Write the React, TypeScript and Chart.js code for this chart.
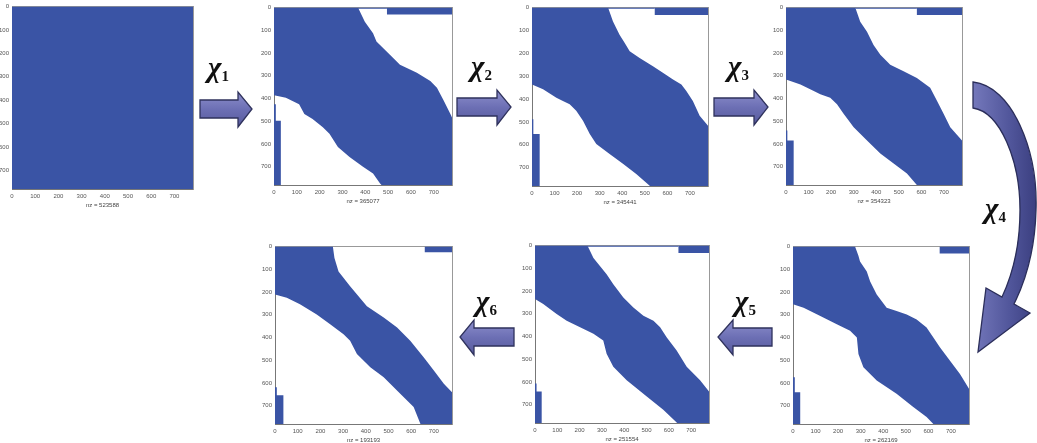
import React, { useEffect, useRef } from 'react';
import { Chart, registerables } from 'chart.js';

Chart.register(...registerables);

// ---------- data ----------
const AXIS_MAX = 780;
const tickValues = [0, 100, 200, 300, 400, 500, 600, 700];
const BLUE = '#3a54a5';

// panel 1: full matrix
const p1Upper = [[0, 0], [780, 0]];
const p1Lower = [[0, 780], [780, 780]];
const p1Blocks: number[][] = [];

// panel 2 (after chi1)
const p2Upper = [[368, 0], [398, 62], [434, 113], [449, 149], [508, 207], [552, 251], [596, 272], [626, 287], [685, 323], [714, 352], [744, 410], [773, 468], [780, 483]];
const p2Lower = [[0, 385], [52, 396], [110, 425], [133, 468], [169, 490], [214, 526], [243, 555], [280, 613], [331, 657], [390, 700], [434, 729], [464, 772], [471, 780]];
const p2Blocks = [[495, 780, 0, 30], [368, 495, 0, 5], [0, 30, 497, 780], [0, 8, 425, 780]];

// panel 3 (after chi2)
const p3Upper = [[337, 0], [359, 61], [388, 119], [411, 155], [433, 191], [477, 220], [536, 256], [580, 285], [625, 314], [662, 336], [684, 365], [713, 408], [743, 473], [780, 517]];
const p3Lower = [[0, 336], [49, 357], [108, 394], [137, 408], [167, 423], [196, 451], [226, 495], [256, 553], [285, 596], [344, 640], [403, 683], [462, 727], [523, 780]];
const p3Blocks = [[544, 780, 0, 32], [337, 544, 0, 5], [0, 34, 553, 780], [0, 6, 488, 780]];

// panel 4 (after chi3)
const p4Upper = [[307, 0], [329, 62], [359, 106], [388, 164], [418, 207], [462, 251], [521, 280], [580, 309], [639, 352], [669, 410], [699, 468], [728, 526], [780, 584]];
const p4Lower = [[0, 316], [64, 338], [123, 367], [152, 381], [196, 396], [226, 425], [256, 468], [300, 526], [359, 584], [418, 642], [477, 686], [536, 729], [580, 780]];
const p4Blocks = [[580, 780, 0, 33], [307, 580, 0, 5], [0, 34, 584, 780], [0, 6, 540, 780]];

// panel 5 (after chi4, bottom right)
const p5Upper = [[275, 0], [290, 40], [297, 65], [327, 109], [342, 153], [371, 211], [415, 269], [459, 283], [504, 298], [548, 320], [592, 356], [622, 400], [651, 443], [695, 501], [740, 560], [780, 625]];
const p5Lower = [[0, 254], [47, 269], [121, 305], [194, 341], [253, 370], [283, 400], [290, 472], [312, 531], [371, 589], [459, 647], [533, 705], [592, 749], [622, 780]];
const p5Blocks = [[650, 780, 0, 30], [0, 32, 640, 780], [0, 8, 574, 780]];

// panel 6 (after chi5, bottom middle)
const p6Upper = [[235, 0], [262, 54], [291, 90], [321, 126], [351, 170], [396, 228], [441, 272], [486, 308], [531, 330], [561, 359], [590, 403], [635, 461], [680, 533], [740, 592], [780, 642]];
const p6Lower = [[0, 235], [37, 257], [97, 301], [142, 330], [202, 359], [262, 388], [306, 417], [321, 475], [351, 533], [411, 592], [501, 664], [575, 722], [635, 778], [637, 780]];
const p6Blocks = [[643, 780, 0, 32], [235, 643, 0, 5], [0, 30, 642, 780], [0, 7, 606, 780]];

// panel 7 (after chi6, bottom left)
const p7Upper = [[255, 0], [262, 50], [280, 109], [331, 174], [405, 262], [479, 312], [538, 356], [596, 414], [655, 487], [700, 545], [744, 603], [780, 640]];
const p7Lower = [[0, 211], [52, 225], [110, 254], [184, 298], [243, 341], [302, 385], [331, 414], [361, 472], [420, 531], [479, 574], [552, 647], [611, 705], [641, 780]];
const p7Blocks = [[660, 780, 0, 25], [0, 37, 654, 780], [0, 8, 618, 780]];

const nzLabels = ['nz = 523588', 'nz = 365077', 'nz = 345441', 'nz = 354323', 'nz = 262169', 'nz = 251554', 'nz = 193193'];

// ---------- layout ----------
const Y_W = 20;
const X_H = 20;
const PAD = 5;

type Geom = { left: number; top: number; w: number; h: number };

function bandPolygon(upper: number[][], lower: number[][]) {
  const pts = [{ x: 0, y: 0 }];
  upper.forEach(([x, y]) => pts.push({ x, y }));
  pts.push({ x: AXIS_MAX, y: AXIS_MAX });
  [...lower].reverse().forEach(([x, y]) => pts.push({ x, y }));
  return pts;
}

function blockPolygon(b: number[]) {
  const [c0, c1, r0, r1] = b;
  return [{ x: c0, y: r0 }, { x: c1, y: r0 }, { x: c1, y: r1 }, { x: c0, y: r1 }];
}

function SpyPanel({ geom, upper, lower, blocks, nz }: { geom: Geom; upper: number[][]; lower: number[][]; blocks: number[][]; nz: string }) {
  const ref = useRef<HTMLCanvasElement | null>(null);
  const cw = Y_W + geom.w + PAD;
  const ch = PAD + geom.h + X_H;
  useEffect(() => {
    const ds = (data: any) => ({
      data,
      showLine: true,
      fill: 'shape',
      backgroundColor: BLUE,
      borderColor: BLUE,
      borderWidth: 0,
      pointRadius: 0,
      tension: 0,
    });
    const tickFont = { size: 6, family: 'Liberation Sans, Arial, sans-serif' };
    const chart = new Chart(ref.current as HTMLCanvasElement, {
      type: 'scatter',
      data: {
        datasets: [ds(bandPolygon(upper, lower)), ...blocks.map((b) => ds(blockPolygon(b)))] as any,
      },
      options: {
        animation: false,
        responsive: false,
        devicePixelRatio: 1,
        layout: { padding: { top: PAD, right: PAD, left: 0, bottom: 0 } },
        plugins: { legend: { display: false }, tooltip: { enabled: false } },
        scales: {
          x: {
            type: 'linear',
            position: 'bottom',
            min: 0,
            max: AXIS_MAX,
            grid: { display: false, drawTicks: false },
            border: { display: true, color: '#777', width: 1 },
            ticks: { font: tickFont, color: '#555', padding: 4, maxRotation: 0, autoSkip: false, includeBounds: false },
            afterBuildTicks: (s: any) => { s.ticks = tickValues.map((v) => ({ value: v })); },
            afterFit: (s: any) => { s.height = X_H; },
            title: { display: true, text: nz, font: tickFont, color: '#444', padding: 0 },
          },
          y: {
            type: 'linear',
            position: 'left',
            reverse: true,
            min: 0,
            max: AXIS_MAX,
            grid: { display: false, drawTicks: false },
            border: { display: true, color: '#777', width: 1 },
            ticks: { font: tickFont, color: '#555', padding: 3, autoSkip: false, includeBounds: false },
            afterBuildTicks: (s: any) => { s.ticks = tickValues.map((v) => ({ value: v })); },
            afterFit: (s: any) => { s.width = Y_W; },
          },
          x2: {
            type: 'linear',
            axis: 'x',
            position: 'top',
            min: 0,
            max: AXIS_MAX,
            grid: { display: false, drawTicks: false },
            border: { display: true, color: '#999', width: 1 },
            ticks: { display: false },
            afterFit: (s: any) => { s.height = 0; },
          },
          y2: {
            type: 'linear',
            axis: 'y',
            position: 'right',
            min: 0,
            max: AXIS_MAX,
            grid: { display: false, drawTicks: false },
            border: { display: true, color: '#999', width: 1 },
            ticks: { display: false },
            afterFit: (s: any) => { s.width = 0; },
          },
        },
      } as any,
    });
    return () => chart.destroy();
  }, []);
  return (
    <div style={{ position: 'absolute', left: geom.left - Y_W, top: geom.top - PAD, width: cw, height: ch }}>
      <canvas ref={ref} width={cw} height={ch} style={{ display: 'block', width: cw, height: ch }} />
    </div>
  );
}

const chiStyle: React.CSSProperties = {
  position: 'absolute',
  fontFamily: "'Liberation Serif', 'DejaVu Serif', serif",
  fontStyle: 'italic',
  fontWeight: 'bold',
  fontSize: 29,
  lineHeight: '29px',
  color: '#111',
  whiteSpace: 'nowrap',
};

function Chi({ left, top, sub }: { left: number; top: number; sub: string }) {
  return (
    <div style={{ ...chiStyle, left, top }}>
      χ<span style={{ fontSize: 15, fontStyle: 'normal', verticalAlign: '-4px' }}>{sub}</span>
    </div>
  );
}

function rightArrow(x0: number, xb: number, tip: number, yc: number) {
  return `M${x0},${yc - 9} L${xb},${yc - 9} L${xb},${yc - 17} L${tip},${yc} L${xb},${yc + 18} L${xb},${yc + 9} L${x0},${yc + 9} Z`;
}
function leftArrow(x0: number, xb: number, tip: number, yc: number) {
  return `M${x0},${yc - 9} L${xb},${yc - 9} L${xb},${yc - 17} L${tip},${yc} L${xb},${yc + 18} L${xb},${yc + 9} L${x0},${yc + 9} Z`;
}

export default function App() {
  const panels = [
    { geom: { left: 12, top: 5, w: 181, h: 184 }, upper: p1Upper, lower: p1Lower, blocks: p1Blocks, nz: nzLabels[0] },
    { geom: { left: 274, top: 6, w: 178, h: 179 }, upper: p2Upper, lower: p2Lower, blocks: p2Blocks, nz: nzLabels[1] },
    { geom: { left: 532, top: 6, w: 176, h: 180 }, upper: p3Upper, lower: p3Lower, blocks: p3Blocks, nz: nzLabels[2] },
    { geom: { left: 786, top: 6, w: 176, h: 179 }, upper: p4Upper, lower: p4Lower, blocks: p4Blocks, nz: nzLabels[3] },
    { geom: { left: 793, top: 245, w: 176, h: 179 }, upper: p5Upper, lower: p5Lower, blocks: p5Blocks, nz: nzLabels[4] },
    { geom: { left: 535, top: 244, w: 174, h: 179 }, upper: p6Upper, lower: p6Lower, blocks: p6Blocks, nz: nzLabels[5] },
    { geom: { left: 275, top: 245, w: 177, h: 179 }, upper: p7Upper, lower: p7Lower, blocks: p7Blocks, nz: nzLabels[6] },
  ];
  return (
    <div style={{ position: 'absolute', left: 0, top: 0, width: 1037, height: 443, background: '#fff', overflow: 'hidden' }}>
      {panels.map((p, i) => (
        <SpyPanel key={i} {...p} />
      ))}
      <svg width={1037} height={443} style={{ position: 'absolute', left: 0, top: 0, pointerEvents: 'none' }}>
        <defs>
          <linearGradient id="ag" x1="0" y1="0" x2="0" y2="1">
            <stop offset="0" stopColor="#8d8fcc" />
            <stop offset="0.5" stopColor="#6c6fb4" />
            <stop offset="1" stopColor="#575a9c" />
          </linearGradient>
          <linearGradient id="cg" x1="0" y1="0" x2="1" y2="0">
            <stop offset="0" stopColor="#7478bb" />
            <stop offset="0.6" stopColor="#50559a" />
            <stop offset="1" stopColor="#3b3f80" />
          </linearGradient>
        </defs>
        <path d={rightArrow(200, 238, 252, 109)} fill="url(#ag)" stroke="#2f325c" strokeWidth={1.3} />
        <path d={rightArrow(457, 497, 511, 107)} fill="url(#ag)" stroke="#2f325c" strokeWidth={1.3} />
        <path d={rightArrow(714, 754, 768, 107)} fill="url(#ag)" stroke="#2f325c" strokeWidth={1.3} />
        <path d={leftArrow(772, 733, 718, 337)} fill="url(#ag)" stroke="#2f325c" strokeWidth={1.3} />
        <path d={leftArrow(514, 474, 460, 337)} fill="url(#ag)" stroke="#2f325c" strokeWidth={1.3} />
        <path
          d="M973,82 C1012,86 1038,150 1036,210 C1035,250 1025,282 1014,304 L1030,313 L978,352 L986,288 L1002,297 C1010,280 1020,250 1020,210 C1020,160 1000,112 973,108 Z"
          fill="url(#cg)"
          stroke="#2b2e5a"
          strokeWidth={1.3}
        />
      </svg>
      <Chi left={208} top={53} sub="1" />
      <Chi left={471} top={52} sub="2" />
      <Chi left={728} top={52} sub="3" />
      <Chi left={985} top={194} sub="4" />
      <Chi left={735} top={287} sub="5" />
      <Chi left={476} top={287} sub="6" />
    </div>
  );
}
